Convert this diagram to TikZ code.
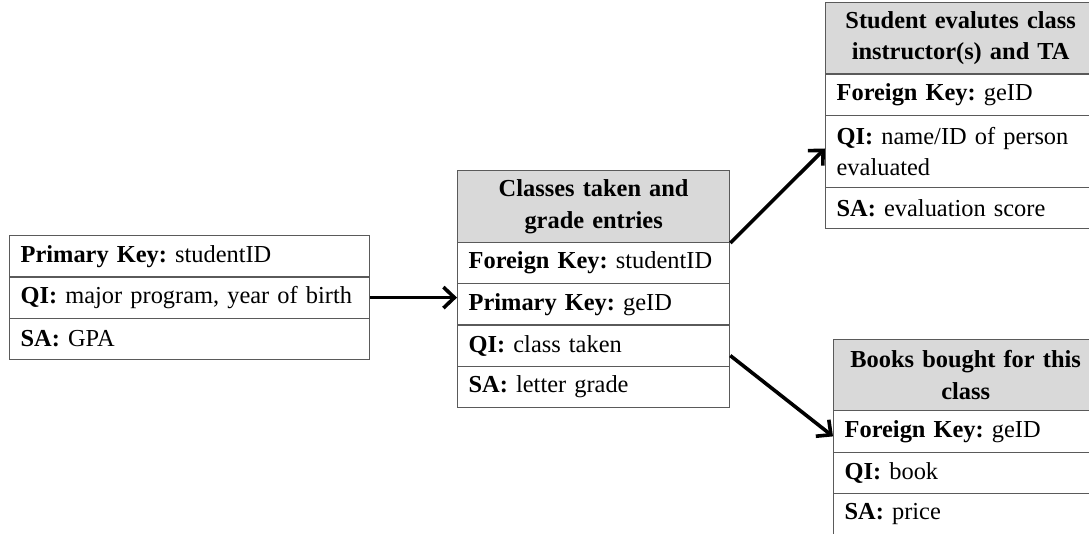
\documentclass[tikz,border=0pt]{standalone}
\usepackage{fontspec}
\setmainfont{Liberation Serif}
\usetikzlibrary{arrows.meta,calc}
\definecolor{bordercol}{HTML}{5A5A5A}
\definecolor{headfill}{HTML}{D9D9D9}
\tikzset{
  cell/.style={draw=bordercol, line width=1.3pt, rectangle, anchor=north west,
    inner xsep=11pt, inner ysep=0pt, align=left,
    font=\fontsize{24.4}{31.5}\selectfont\frenchspacing},
  headcell/.style={cell, fill=headfill, align=center, font=\fontsize{24.4}{31.5}\selectfont\bfseries\frenchspacing},
  link/.style={line width=3.6pt, -{Straight Barb[length=11pt,width=21pt]}}
}
\begin{document}
\begin{tikzpicture}[x=1pt,y=-1pt]
\useasboundingbox (0,0) rectangle (1089,534);
\clip (0,0) rectangle (1089,534);
% Table 1
\node[cell, text width=338pt, minimum height=41.3pt] (pk1) at (9,235) {\textbf{Primary Key:} studentID};
\node[cell, text width=338pt, minimum height=41.3pt] (qi1) at (9,276.3) {\textbf{QI:} major program, year of birth};
\node[cell, text width=338pt, minimum height=41.3pt] (sa1) at (9,317.6) {\textbf{SA:} GPA};
% Table 2
\node[headcell, text width=250pt, minimum height=71.7pt] (h2) at (457,170) {Classes taken and\\grade entries};
\node[cell, text width=250pt, minimum height=41.3pt] (fk2) at (457,241.7) {\textbf{Foreign Key:} studentID};
\node[cell, text width=250pt, minimum height=41.3pt] (pk2) at (457,283) {\textbf{Primary Key:} geID};
\node[cell, text width=250pt, minimum height=41.3pt] (qi2) at (457,324.3) {\textbf{QI:} class taken};
\node[cell, text width=250pt, minimum height=41.3pt] (sa2) at (457,365.6) {\textbf{SA:} letter grade};
% Table 3
\node[headcell, text width=248pt, minimum height=71.3pt] (h3) at (825,2) {Student evalutes class\\instructor(s) and TA};
\node[cell, text width=248pt, minimum height=41.7pt] (fk3) at (825,73.3) {\textbf{Foreign Key:} geID};
\node[cell, text width=248pt, minimum height=71.7pt] (qi3) at (825,115) {\textbf{QI:} name/ID of person\\evaluated};
\node[cell, text width=248pt, minimum height=41.3pt] (sa3) at (825,186.7) {\textbf{SA:} evaluation score};
% Table 4
\node[headcell, text width=242pt, minimum height=71pt] (h4) at (833,339) {Books bought for this\\class};
\node[cell, text width=242pt, minimum height=41.5pt] (fk4) at (833,410) {\textbf{Foreign Key:} geID};
\node[cell, text width=242pt, minimum height=41.5pt] (qi4) at (833,451.5) {\textbf{QI:} book};
\node[cell, text width=242pt, minimum height=41.5pt] (sa4) at (833,493) {\textbf{SA:} price};
% Connectors
\draw[link] (qi1.east) -- (qi1.east -| pk2.west);
\draw[link] (h2.south east) -- ($(qi3.west)+(0,-3)$);
\draw[link] ($(qi2.east)+(0,10)$) -- ($(fk4.west)+(0,5)$);
\end{tikzpicture}
\end{document}
